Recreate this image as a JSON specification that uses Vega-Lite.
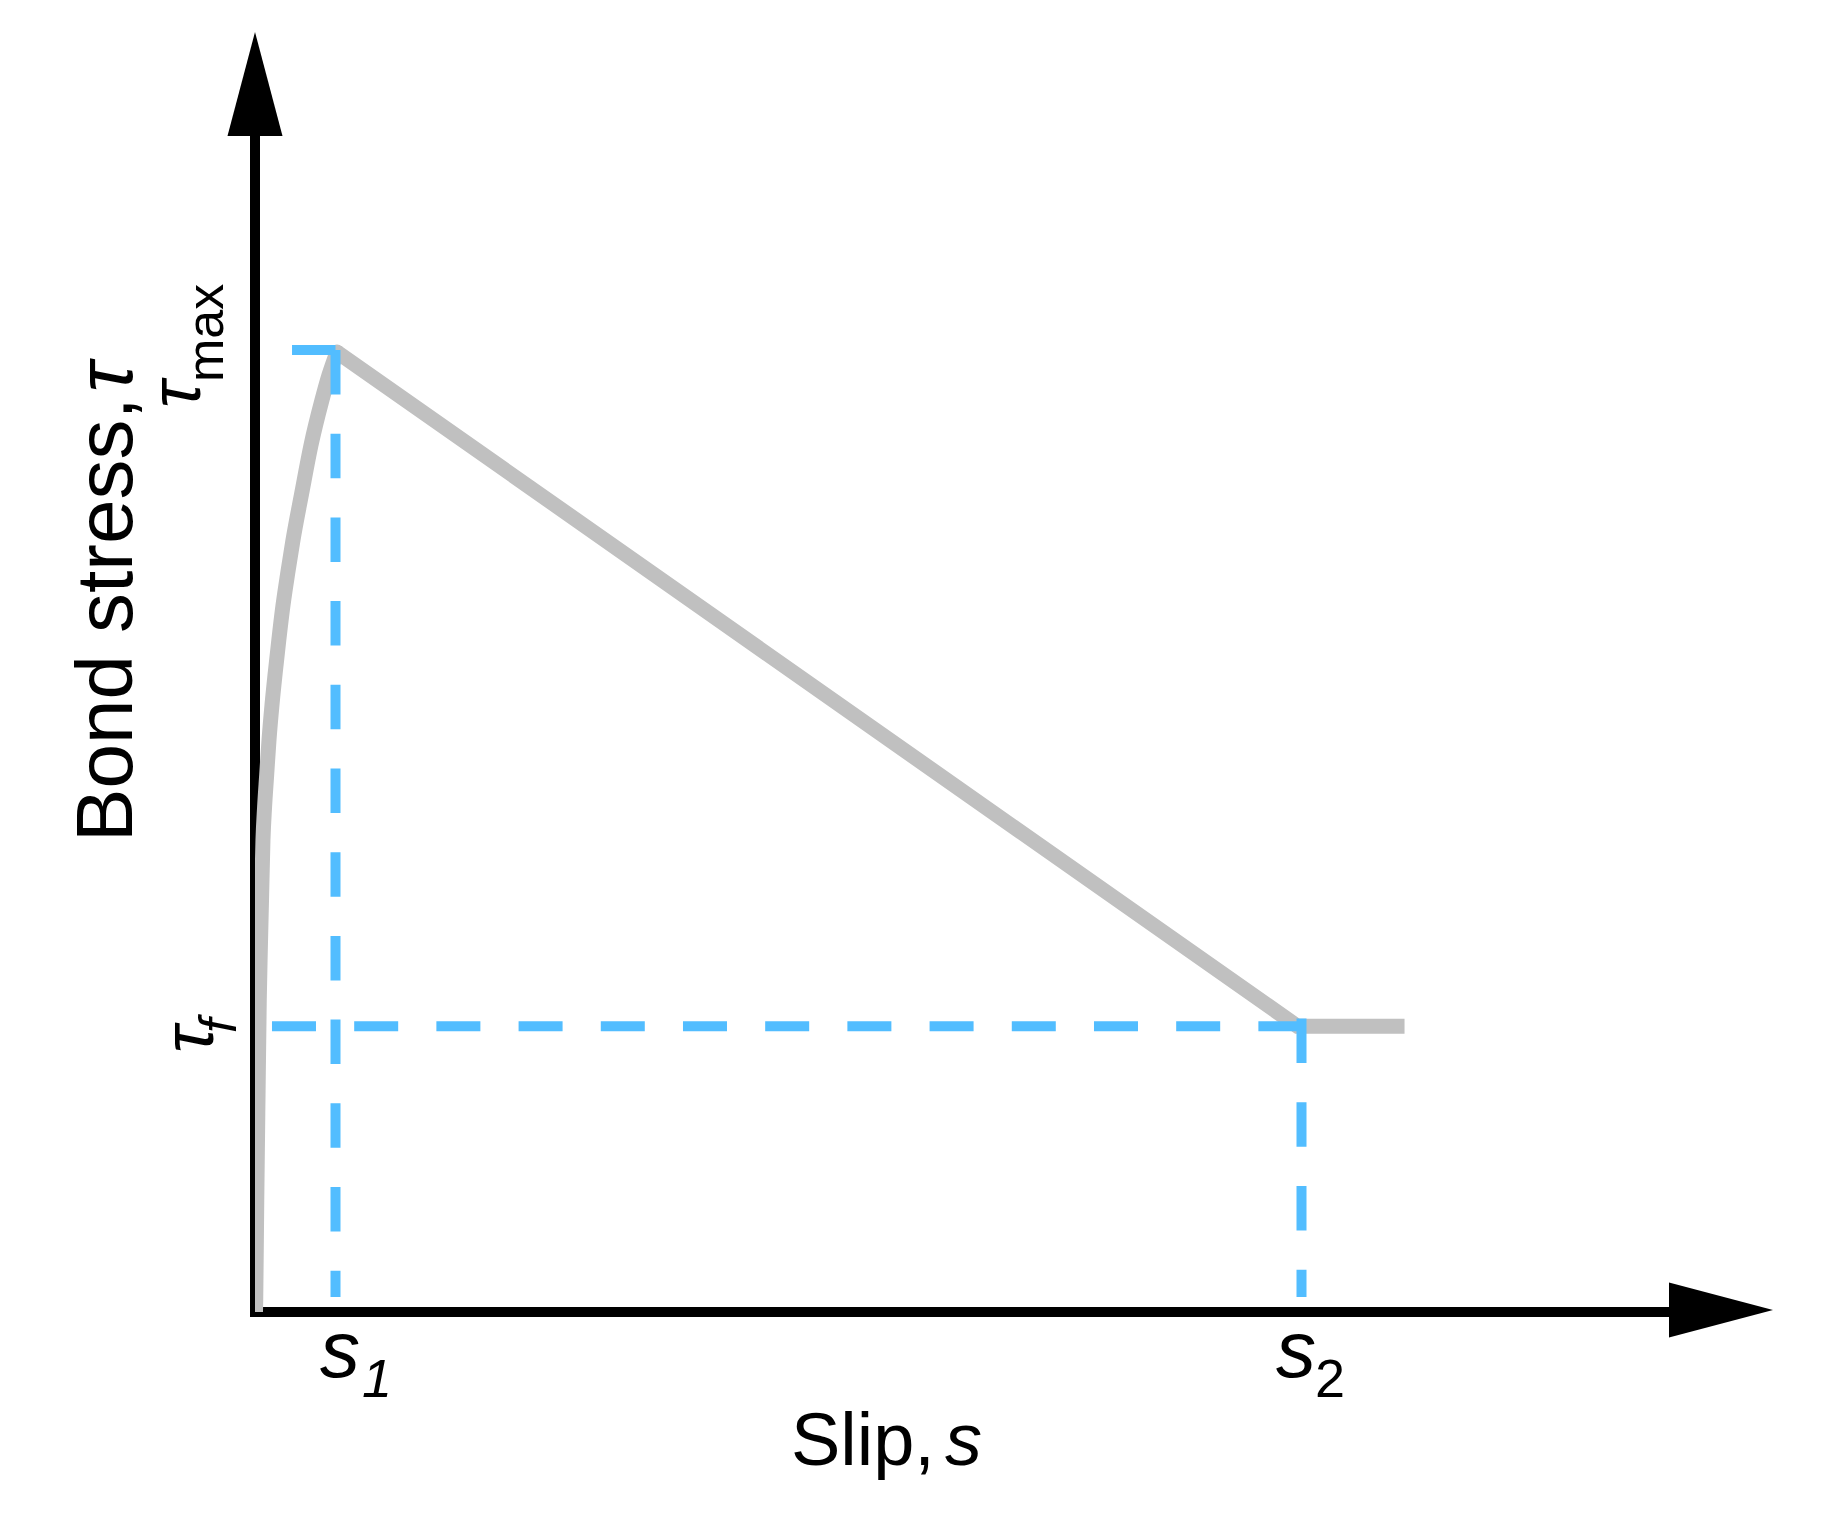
{
  "$schema": "https://vega.github.io/schema/vega-lite/v6.json",
  "autosize": {"type": "none"},
  "width": 1569.75,
  "height": 1298.7,
  "padding": {"left": 255, "top": 13.3, "right": 3.25, "bottom": 205},
  "background": "white",
  "config": {"view": {"stroke": null}, "axis": {"disable": true}},
  "datasets": {
    "rising": [
      {"i": 0, "s": 0.006, "tau": 0},
      {"i": 1, "s": 0.009, "tau": 0.125},
      {"i": 2, "s": 0.022, "tau": 1.164},
      {"i": 3, "s": 0.037, "tau": 2.204},
      {"i": 4, "s": 0.053, "tau": 3.243},
      {"i": 5, "s": 0.066, "tau": 3.763},
      {"i": 6, "s": 0.081, "tau": 4.283},
      {"i": 7, "s": 0.099, "tau": 4.906},
      {"i": 8, "s": 0.119, "tau": 5.249},
      {"i": 9, "s": 0.145, "tau": 5.582},
      {"i": 10, "s": 0.174, "tau": 5.946},
      {"i": 11, "s": 0.211, "tau": 6.31},
      {"i": 12, "s": 0.251, "tau": 6.642},
      {"i": 13, "s": 0.296, "tau": 6.985},
      {"i": 14, "s": 0.345, "tau": 7.328},
      {"i": 15, "s": 0.407, "tau": 7.682},
      {"i": 16, "s": 0.472, "tau": 8.025},
      {"i": 17, "s": 0.581, "tau": 8.514},
      {"i": 18, "s": 0.696, "tau": 9.012},
      {"i": 19, "s": 0.832, "tau": 9.48},
      {"i": 20, "s": 0.919, "tau": 9.74},
      {"i": 21, "s": 1.019, "tau": 9.979}
    ],
    "softening": [
      {"i": 0, "s": 1.019, "tau": 9.979},
      {"i": 1, "s": 12.95, "tau": 2.97},
      {"i": 2, "s": 14.28, "tau": 2.97}
    ],
    "hguides": [
      {"s_from": 0.46, "s_to": 1.0, "tau": 10},
      {"s_from": 0.211, "s_to": 13.0, "tau": 2.97}
    ],
    "vguides": [
      {"s": 1.0, "tau_from": 10, "tau_to": 0.156},
      {"s": 13.0, "tau_from": 3.05, "tau_to": 0.156}
    ],
    "axes": [
      {"name": "y", "s_from": 0, "s_to": 0, "tau_from": 0, "tau_to": 12.3},
      {"name": "x", "s_from": 0, "s_to": 17.6, "tau_from": 0, "tau_to": 0}
    ]
  },
  "layer": [
    {
      "data": {"name": "axes"},
      "mark": {"type": "rule", "color": "#000000", "strokeWidth": 10, "strokeCap": "square"},
      "encoding": {
        "x": {"field": "s_from", "type": "quantitative", "scale": {"domain": [0, 19.5], "nice": false, "zero": false}, "axis": null},
        "x2": {"field": "s_to"},
        "y": {"field": "tau_from", "type": "quantitative", "scale": {"domain": [0, 13.5], "nice": false, "zero": false}, "axis": null},
        "y2": {"field": "tau_to"}
      }
    },
    {
      "data": {"values": [{}]},
      "mark": {"type": "point", "shape": "M0,-1L0.529,1L-0.529,1Z", "filled": true, "size": 10816, "color": "#000000", "opacity": 1, "strokeWidth": 0},
      "encoding": {
        "x": {"datum": 0, "type": "quantitative", "scale": {"domain": [0, 19.5], "nice": false, "zero": false}, "axis": null},
        "y": {"datum": 12.765, "type": "quantitative", "scale": {"domain": [0, 13.5], "nice": false, "zero": false}, "axis": null}
      }
    },
    {
      "data": {"values": [{}]},
      "mark": {"type": "point", "shape": "M1,0L-1,0.529L-1,-0.529Z", "filled": true, "size": 10816, "color": "#000000", "opacity": 1, "strokeWidth": 0},
      "encoding": {
        "x": {"datum": 18.211, "type": "quantitative", "scale": {"domain": [0, 19.5], "nice": false, "zero": false}, "axis": null},
        "y": {"datum": 0.02, "type": "quantitative", "scale": {"domain": [0, 13.5], "nice": false, "zero": false}, "axis": null}
      }
    },
    {
      "data": {"name": "rising"},
      "mark": {"type": "line", "color": "#C0C0C0", "strokeWidth": 15, "strokeCap": "round", "interpolate": "monotone", "clip": true},
      "encoding": {
        "x": {"field": "s", "type": "quantitative", "scale": {"domain": [0, 19.5], "nice": false, "zero": false}, "axis": null},
        "y": {"field": "tau", "type": "quantitative", "scale": {"domain": [0, 13.5], "nice": false, "zero": false}, "axis": null},
        "order": {"field": "i", "type": "quantitative"}
      }
    },
    {
      "data": {"name": "softening"},
      "mark": {"type": "line", "color": "#C0C0C0", "strokeWidth": 15, "strokeCap": "butt", "strokeJoin": "miter", "clip": true},
      "encoding": {
        "x": {"field": "s", "type": "quantitative", "scale": {"domain": [0, 19.5], "nice": false, "zero": false}, "axis": null},
        "y": {"field": "tau", "type": "quantitative", "scale": {"domain": [0, 13.5], "nice": false, "zero": false}, "axis": null},
        "order": {"field": "i", "type": "quantitative"}
      }
    },
    {
      "data": {"name": "hguides"},
      "mark": {"type": "rule", "color": "#52BDFF", "strokeWidth": 10, "strokeDash": [44, 38.2], "strokeCap": "butt"},
      "encoding": {
        "x": {"field": "s_from", "type": "quantitative", "scale": {"domain": [0, 19.5], "nice": false, "zero": false}, "axis": null},
        "x2": {"field": "s_to"},
        "y": {"field": "tau", "type": "quantitative", "scale": {"domain": [0, 13.5], "nice": false, "zero": false}, "axis": null}
      }
    },
    {
      "data": {"name": "vguides"},
      "mark": {"type": "rule", "color": "#52BDFF", "strokeWidth": 10, "strokeDash": [44.5, 39.2], "strokeCap": "butt"},
      "encoding": {
        "x": {"field": "s", "type": "quantitative", "scale": {"domain": [0, 19.5], "nice": false, "zero": false}, "axis": null},
        "y": {"field": "tau_from", "type": "quantitative", "scale": {"domain": [0, 13.5], "nice": false, "zero": false}, "axis": null},
        "y2": {"field": "tau_to"}
      }
    },
    {
      "data": {"values": [{}]},
      "mark": {"type": "text", "text": "Bond stress,", "font": "Liberation Sans", "fontSize": 80, "angle": 270, "align": "left", "baseline": "alphabetic", "color": "#000000"},
      "encoding": {
        "x": {"datum": -1.528, "type": "quantitative", "scale": {"domain": [0, 19.5], "nice": false, "zero": false}, "axis": null},
        "y": {"datum": 4.886, "type": "quantitative", "scale": {"domain": [0, 13.5], "nice": false, "zero": false}, "axis": null}
      }
    },
    {
      "data": {"values": [{}]},
      "mark": {"type": "text", "text": "τ", "font": "Liberation Sans", "fontSize": 80, "fontStyle": "italic", "angle": 270, "align": "left", "baseline": "alphabetic", "color": "#000000"},
      "encoding": {
        "x": {"datum": -1.528, "type": "quantitative", "scale": {"domain": [0, 19.5], "nice": false, "zero": false}, "axis": null},
        "y": {"datum": 9.56, "type": "quantitative", "scale": {"domain": [0, 13.5], "nice": false, "zero": false}, "axis": null}
      }
    },
    {
      "data": {"values": [{}]},
      "mark": {"type": "text", "text": "τ", "font": "Liberation Sans", "fontSize": 72, "fontStyle": "italic", "angle": 270, "align": "left", "baseline": "alphabetic", "color": "#000000"},
      "encoding": {
        "x": {"datum": -0.683, "type": "quantitative", "scale": {"domain": [0, 19.5], "nice": false, "zero": false}, "axis": null},
        "y": {"datum": 9.397, "type": "quantitative", "scale": {"domain": [0, 13.5], "nice": false, "zero": false}, "axis": null}
      }
    },
    {
      "data": {"values": [{}]},
      "mark": {"type": "text", "text": "max", "font": "Liberation Sans", "fontSize": 52, "angle": 270, "align": "left", "baseline": "alphabetic", "color": "#000000"},
      "encoding": {
        "x": {"datum": -0.398, "type": "quantitative", "scale": {"domain": [0, 19.5], "nice": false, "zero": false}, "axis": null},
        "y": {"datum": 9.667, "type": "quantitative", "scale": {"domain": [0, 13.5], "nice": false, "zero": false}, "axis": null}
      }
    },
    {
      "data": {"values": [{}]},
      "mark": {"type": "text", "text": "τ", "font": "Liberation Sans", "fontSize": 72, "fontStyle": "italic", "angle": 270, "align": "left", "baseline": "alphabetic", "color": "#000000"},
      "encoding": {
        "x": {"datum": -0.522, "type": "quantitative", "scale": {"domain": [0, 19.5], "nice": false, "zero": false}, "axis": null},
        "y": {"datum": 2.692, "type": "quantitative", "scale": {"domain": [0, 13.5], "nice": false, "zero": false}, "axis": null}
      }
    },
    {
      "data": {"values": [{}]},
      "mark": {"type": "text", "text": "f", "font": "Liberation Sans", "fontSize": 52, "fontStyle": "italic", "angle": 270, "align": "left", "baseline": "alphabetic", "color": "#000000"},
      "encoding": {
        "x": {"datum": -0.235, "type": "quantitative", "scale": {"domain": [0, 19.5], "nice": false, "zero": false}, "axis": null},
        "y": {"datum": 2.9, "type": "quantitative", "scale": {"domain": [0, 13.5], "nice": false, "zero": false}, "axis": null}
      }
    },
    {
      "data": {"values": [{}]},
      "mark": {"type": "text", "text": "s", "font": "Liberation Sans", "fontSize": 80, "fontStyle": "italic", "align": "left", "baseline": "alphabetic", "color": "#000000"},
      "encoding": {
        "x": {"datum": 0.807, "type": "quantitative", "scale": {"domain": [0, 19.5], "nice": false, "zero": false}, "axis": null},
        "y": {"datum": -0.676, "type": "quantitative", "scale": {"domain": [0, 13.5], "nice": false, "zero": false}, "axis": null}
      }
    },
    {
      "data": {"values": [{}]},
      "mark": {"type": "text", "text": "1", "font": "Liberation Sans", "fontSize": 54, "fontStyle": "italic", "align": "left", "baseline": "alphabetic", "color": "#000000"},
      "encoding": {
        "x": {"datum": 1.33, "type": "quantitative", "scale": {"domain": [0, 19.5], "nice": false, "zero": false}, "axis": null},
        "y": {"datum": -0.884, "type": "quantitative", "scale": {"domain": [0, 13.5], "nice": false, "zero": false}, "axis": null}
      }
    },
    {
      "data": {"values": [{}]},
      "mark": {"type": "text", "text": "s", "font": "Liberation Sans", "fontSize": 80, "fontStyle": "italic", "align": "left", "baseline": "alphabetic", "color": "#000000"},
      "encoding": {
        "x": {"datum": 12.683, "type": "quantitative", "scale": {"domain": [0, 19.5], "nice": false, "zero": false}, "axis": null},
        "y": {"datum": -0.676, "type": "quantitative", "scale": {"domain": [0, 13.5], "nice": false, "zero": false}, "axis": null}
      }
    },
    {
      "data": {"values": [{}]},
      "mark": {"type": "text", "text": "2", "font": "Liberation Sans", "fontSize": 54, "align": "left", "baseline": "alphabetic", "color": "#000000"},
      "encoding": {
        "x": {"datum": 13.168, "type": "quantitative", "scale": {"domain": [0, 19.5], "nice": false, "zero": false}, "axis": null},
        "y": {"datum": -0.884, "type": "quantitative", "scale": {"domain": [0, 13.5], "nice": false, "zero": false}, "axis": null}
      }
    },
    {
      "data": {"values": [{}]},
      "mark": {"type": "text", "text": "Slip,", "font": "Liberation Sans", "fontSize": 74, "align": "left", "baseline": "alphabetic", "color": "#000000"},
      "encoding": {
        "x": {"datum": 6.658, "type": "quantitative", "scale": {"domain": [0, 19.5], "nice": false, "zero": false}, "axis": null},
        "y": {"datum": -1.59, "type": "quantitative", "scale": {"domain": [0, 13.5], "nice": false, "zero": false}, "axis": null}
      }
    },
    {
      "data": {"values": [{}]},
      "mark": {"type": "text", "text": "s", "font": "Liberation Sans", "fontSize": 74, "fontStyle": "italic", "align": "left", "baseline": "alphabetic", "color": "#000000"},
      "encoding": {
        "x": {"datum": 8.571, "type": "quantitative", "scale": {"domain": [0, 19.5], "nice": false, "zero": false}, "axis": null},
        "y": {"datum": -1.59, "type": "quantitative", "scale": {"domain": [0, 13.5], "nice": false, "zero": false}, "axis": null}
      }
    }
  ]
}
